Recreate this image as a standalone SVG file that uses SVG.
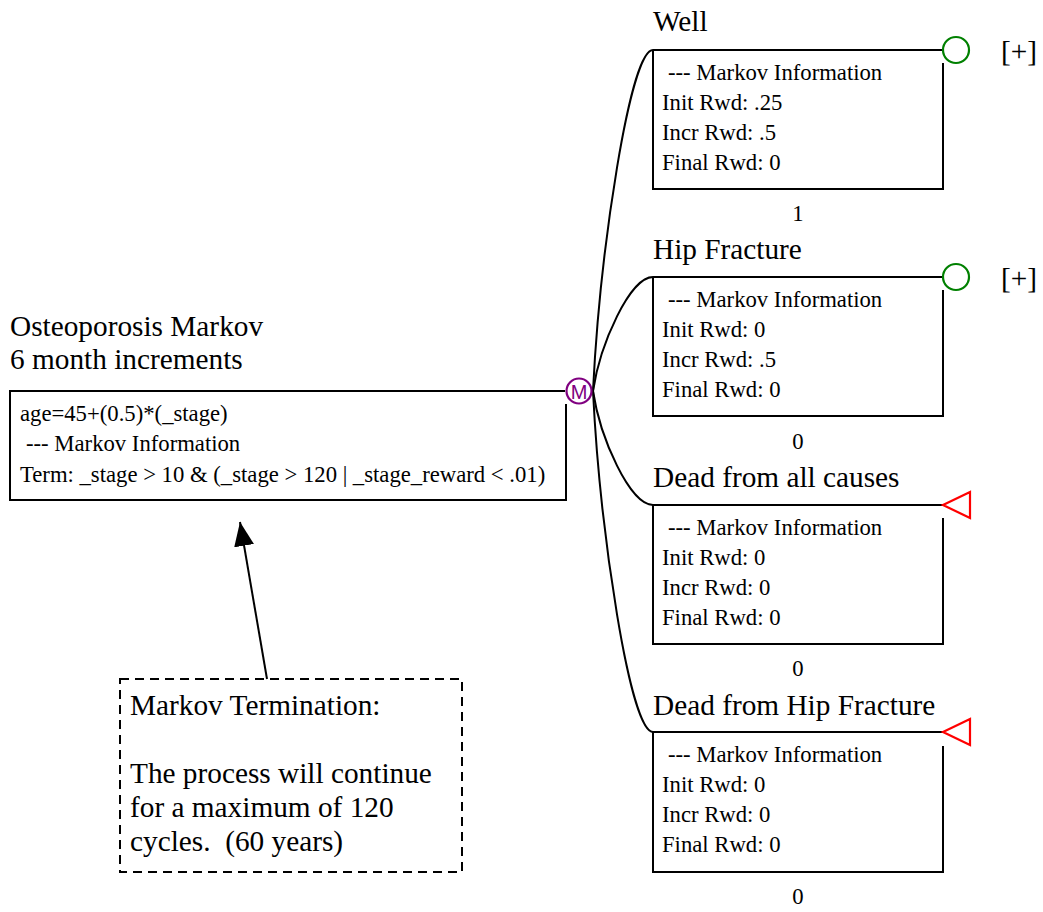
<svg xmlns="http://www.w3.org/2000/svg" width="1043" height="912" viewBox="0 0 1043 912" font-family="'Liberation Serif', 'Times New Roman', Tinos, 'Noto Serif', 'DejaVu Serif', FreeSerif, serif">
<style>
text{font-family:'Liberation Serif','Times New Roman',Tinos,'Noto Serif','DejaVu Serif',FreeSerif,serif}
.title{font-size:29.3px}
.body{font-size:22.7px}
.ln{stroke:#000;stroke-width:2;fill:none}
.dash{stroke:#000;stroke-width:2;fill:none;stroke-dasharray:9 6}
.chance{stroke:#008000;stroke-width:2.2;fill:none}
.term{stroke:#ff0000;stroke-width:2.2;fill:none}
text.sans{font-family:'Liberation Sans','DejaVu Sans',sans-serif}
</style>
<defs>
<marker id="ah" markerWidth="24" markerHeight="20" refX="24" refY="10" orient="auto" markerUnits="userSpaceOnUse">
<path d="M0,0 L24,10 L0,20 Z" fill="#000"/>
</marker>
</defs>
<rect width="1043" height="912" fill="#fff"/>

<g id="connectors">
<path class="ln" d="M593,391 C600,250 630,50 653,50"/>
<path class="ln" d="M593,391 C600,344 630,277 653,277"/>
<path class="ln" d="M593,391 C600,438 630,505 653,505"/>
<path class="ln" d="M593,391 C600,532 630,732 653,732"/>
<line class="ln" x1="267" y1="679" x2="240" y2="522" marker-end="url(#ah)"/>
</g>

<g id="root">
<text class="title" x="10" y="336">Osteoporosis Markov</text>
<text class="title" x="10" y="369">6 month increments</text>
<path class="ln" d="M565,391 H10 V500 H566 V404"/>
<text class="body" x="20" y="421">age=45+(0.5)*(_stage)</text>
<text class="body" x="26" y="451">--- Markov Information</text>
<text class="body" x="20" y="482">Term: _stage &gt; 10 &amp; (_stage &gt; 120 | _stage_reward &lt; .01)</text>
<circle cx="579" cy="391" r="12.5" stroke="#800080" stroke-width="2.2" fill="#fff"/>
<text class="sans" x="579" y="398.5" font-size="20" fill="#800080" text-anchor="middle">M</text>
</g>

<g id="well">
<text class="title" x="653" y="31">Well</text>
<path class="ln" d="M653,50 H943 M653,50 V189 H943 V63"/>
<circle class="chance" cx="956" cy="50" r="13"/>
<text class="title" x="1001" y="61">[+]</text>
<text class="body" x="668" y="80">--- Markov Information</text>
<text class="body" x="662" y="110">Init Rwd: .25</text>
<text class="body" x="662" y="140">Incr Rwd: .5</text>
<text class="body" x="662" y="170">Final Rwd: 0</text>
<text class="body" x="798" y="221" text-anchor="middle">1</text>
</g>

<g id="hip">
<text class="title" x="653" y="259">Hip Fracture</text>
<path class="ln" d="M653,277 H943 M653,277 V416 H943 V290"/>
<circle class="chance" cx="956" cy="277" r="13"/>
<text class="title" x="1001" y="288">[+]</text>
<text class="body" x="668" y="307">--- Markov Information</text>
<text class="body" x="662" y="337">Init Rwd: 0</text>
<text class="body" x="662" y="367">Incr Rwd: .5</text>
<text class="body" x="662" y="397">Final Rwd: 0</text>
<text class="body" x="798" y="449" text-anchor="middle">0</text>
</g>

<g id="deadall">
<text class="title" x="653" y="487">Dead from all causes</text>
<path class="ln" d="M653,505 H943 M653,505 V644 H943 V518"/>
<polygon class="term" points="943,505 970,492 970,518"/>
<text class="body" x="668" y="535">--- Markov Information</text>
<text class="body" x="662" y="565">Init Rwd: 0</text>
<text class="body" x="662" y="595">Incr Rwd: 0</text>
<text class="body" x="662" y="625">Final Rwd: 0</text>
<text class="body" x="798" y="676" text-anchor="middle">0</text>
</g>

<g id="deadhf">
<text class="title" x="653" y="715">Dead from Hip Fracture</text>
<path class="ln" d="M653,732 H943 M653,732 V872 H943 V746"/>
<polygon class="term" points="943,732 970,719 970,745"/>
<text class="body" x="668" y="762">--- Markov Information</text>
<text class="body" x="662" y="792">Init Rwd: 0</text>
<text class="body" x="662" y="822">Incr Rwd: 0</text>
<text class="body" x="662" y="852">Final Rwd: 0</text>
<text class="body" x="798" y="904" text-anchor="middle">0</text>
</g>

<g id="note">
<rect class="dash" x="120" y="679" width="342" height="193"/>
<text class="title" x="130" y="715">Markov Termination:</text>
<text class="title" x="130" y="783">The process will continue</text>
<text class="title" x="130" y="817">for a maximum of 120</text>
<text class="title" x="130" y="851" xml:space="preserve">cycles.  (60 years)</text>
</g>
</svg>
